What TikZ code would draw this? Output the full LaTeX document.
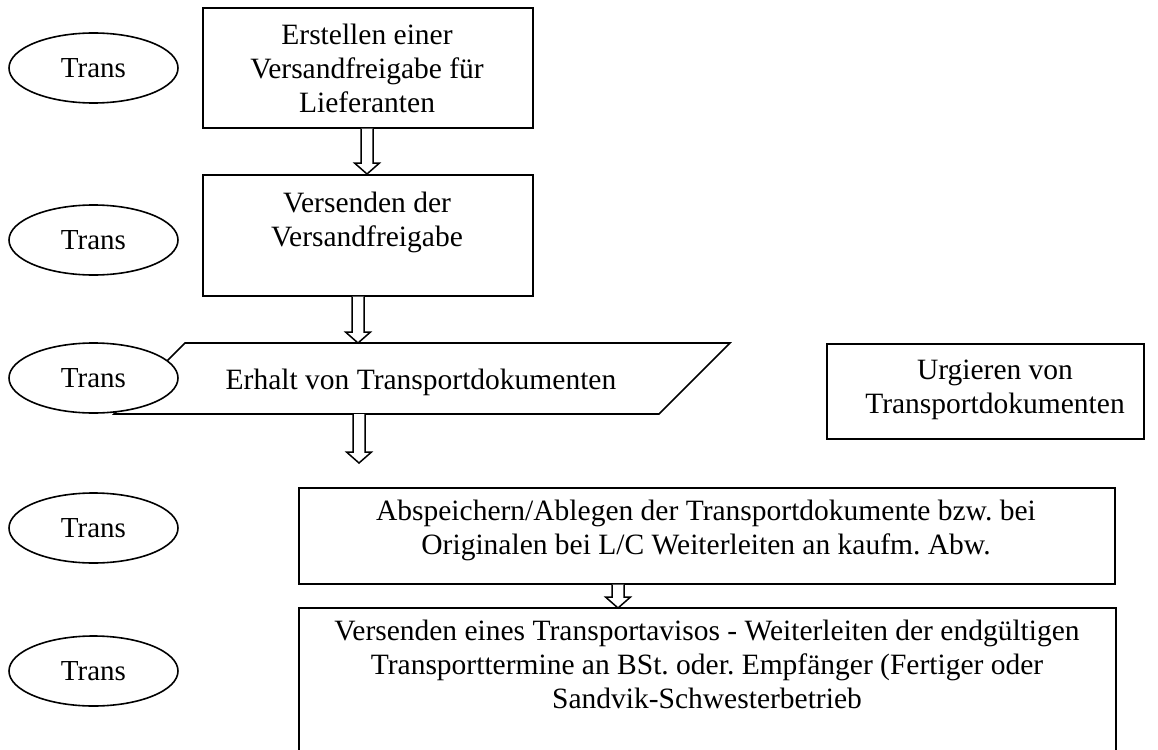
\documentclass[tikz,border=0pt]{standalone}
\usepackage{fontspec}
\setmainfont{Liberation Serif}
\usetikzlibrary{shapes.geometric,calc}
\frenchspacing
\newcommand\tl[1]{\begin{tabular}[t]{@{}c@{}}#1\end{tabular}}
\tikzset{
  boxshape/.style={draw, line width=1.6pt, rectangle, inner sep=0pt, anchor=north west},
  txt/.style={anchor=base, inner sep=0pt, font=\fontsize{29.5}{34}\selectfont},
  transell/.style={draw, line width=1.6pt, ellipse, fill=white, minimum width=169pt, minimum height=70pt, inner sep=0pt, font=\fontsize{29}{34}\selectfont},
  blockarrow/.style={draw, line width=1.5pt, fill=white, line join=miter},
  para/.style={draw, line width=1.6pt, line join=miter}
}
\newcommand\blockarrow[2]{\draw[blockarrow] let \p1=(#1), \p2=(#2) in
  (\x1-6pt,\y1) -- (\x1-6pt,\y2+11pt) -- (\x1-12.5pt,\y2+11pt) -- (\x1,\y2) --
  (\x1+12.5pt,\y2+11pt) -- (\x1+6pt,\y2+11pt) -- (\x1+6pt,\y1);}
\begin{document}
\begin{tikzpicture}[x=1pt,y=-1pt]
\clip (0,0) rectangle (1158,749);
\fill[white] (0,0) rectangle (1158,749);
% boxes
\node[boxshape, minimum width=330pt, minimum height=120pt] (b1) at (202,7) {};
\node[txt] (t1) at (367,45) {\tl{Erstellen einer\\Versandfreigabe für\\Lieferanten}};
\node[boxshape, minimum width=330pt, minimum height=121pt] (b2) at (202,174) {};
\node[txt] (t2) at (367,212) {\tl{Versenden der\\Versandfreigabe}};
% parallelogram
\coordinate (p1) at (185,343);
\coordinate (p2) at (730,343);
\coordinate (p3) at (659,414);
\coordinate (p4) at (114,414);
\draw[para] (p1) -- (p2) -- (p3) -- (p4) -- cycle;
\node[txt] (t3) at (421,389) {Erhalt von Transportdokumenten};
\node[boxshape, minimum width=317pt, minimum height=95pt] (b3) at (826,343) {};
\node[txt] (t4) at (995,379) {\tl{Urgieren von\\Transportdokumenten}};
\node[boxshape, minimum width=816pt, minimum height=96pt] (b4) at (298,487) {};
\node[txt] (t5) at (706,520) {\tl{Abspeichern/Ablegen der Transportdokumente bzw. bei\\Originalen bei L/C Weiterleiten an kaufm. Abw.}};
\node[boxshape, minimum width=817pt, minimum height=170pt] (b5) at (298,607) {};
\node[txt] (t6) at (707,640) {\tl{Versenden eines Transportavisos - Weiterleiten der endgültigen\\Transporttermine an BSt. oder. Empfänger (Fertiger oder\\Sandvik-Schwesterbetrieb}};
% ellipses
\node[transell] (e1) at (93.5,68) {Trans};
\node[transell] (e2) at (93.5,240) {Trans};
\node[transell] (e3) at (93.5,378) {Trans};
\node[transell] (e4) at (93.5,528) {Trans};
\node[transell] (e5) at (93.5,671) {Trans};
% arrows
\coordinate (a1s) at ($(b1.south west)+(165,0)$);
\coordinate (a1e) at ($(b2.north west)+(165,0)$);
\coordinate (a2s) at ($(b2.south west)+(156,0)$);
\coordinate (a2e) at ($(p1)+(173,0)$);
\coordinate (a3s) at ($(p4)+(245,0)$);
\coordinate (a3e) at ($(a3s)+(0,49)$);
\coordinate (a4s) at ($(b4.south west)+(320,0)$);
\coordinate (a4e) at ($(b5.north west)+(320,1)$);
\blockarrow{a1s}{a1e}
\blockarrow{a2s}{a2e}
\blockarrow{a3s}{a3e}
\blockarrow{a4s}{a4e}
\end{tikzpicture}
\end{document}
